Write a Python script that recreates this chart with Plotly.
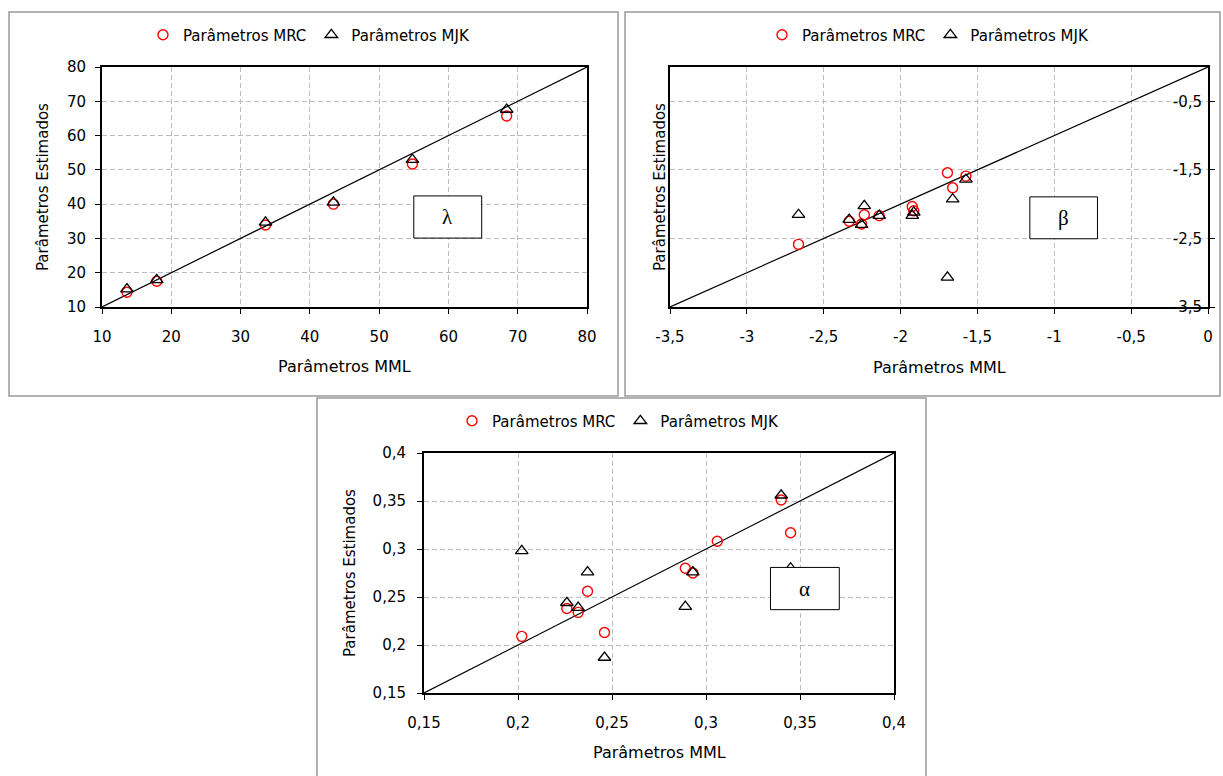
import plotly.graph_objects as go

W, H = 1223, 776

# ---------------- data ----------------
# lambda panel
mml_lambda = [13.6, 17.9, 33.6, 43.4, 54.8, 68.4]
mrc_lambda = [14.3, 17.5, 33.9, 40.0, 51.7, 65.7]
mjk_lambda = [15.2, 17.9, 34.7, 40.5, 53.0, 67.6]

# beta panel
mml_beta = [-2.664, -2.334, -2.254, -2.236, -2.139, -1.924, -1.914, -1.695, -1.661, -1.575]
mrc_beta = [-2.587, -2.250, -2.290, -2.154, -2.168, -2.034, -2.096, -1.543, -1.760, -1.591]
mjk_beta = [-2.154, -2.226, -2.298, -2.024, -2.168, -2.168, -2.120, -3.067, -1.928, -1.640]

# alpha panel
mml_alpha = [0.202, 0.226, 0.232, 0.237, 0.246, 0.289, 0.293, 0.306, 0.340, 0.345]
mrc_alpha = [0.209, 0.238, 0.234, 0.256, 0.213, 0.280, 0.275, 0.308, 0.351, 0.317]
mjk_alpha = [0.298, 0.244, 0.239, 0.276, 0.187, 0.240, 0.276, None, 0.356, 0.280]

lambda_range = [10, 80]
beta_range = [-3.5, 0]
alpha_range = [0.15, 0.4]

beta_x_tickvals = [-3.5, -3, -2.5, -2, -1.5, -1, -0.5, 0]
beta_x_ticktext = ['-3,5', '-3', '-2,5', '-2', '-1,5', '-1', '-0,5', '0']
beta_y_tickvals = [-3.5, -2.5, -1.5, -0.5]
beta_y_ticktext = ['-3,5', '-2,5', '-1,5', '-0,5']

series_names = ['Parâmetros MRC', 'Parâmetros MJK']
x_title = 'Parâmetros MML'
y_title = 'Parâmetros Estimados'
greek = ['λ', 'β', 'α']


def fx(p):
    return p / W


def fy(p):
    return 1 - p / H


FONT = 'DejaVu Sans'
fig = go.Figure()

panels = [
    dict(x=mml_lambda, mrc=mrc_lambda, mjk=mjk_lambda, rng=lambda_range, xa='x', ya='y', lg='legend'),
    dict(x=mml_beta, mrc=mrc_beta, mjk=mjk_beta, rng=beta_range, xa='x2', ya='y2', lg='legend2'),
    dict(x=mml_alpha, mrc=mrc_alpha, mjk=mjk_alpha, rng=alpha_range, xa='x3', ya='y3', lg='legend3'),
]

for p in panels:
    fig.add_trace(go.Scatter(x=p['rng'], y=p['rng'], mode='lines',
                             line=dict(color='black', width=1.2),
                             xaxis=p['xa'], yaxis=p['ya'], showlegend=False,
                             hoverinfo='skip'))
    fig.add_trace(go.Scatter(x=p['x'], y=p['mrc'], mode='markers', name=series_names[0],
                             marker=dict(symbol='circle-open', size=10, color='red',
                                         line=dict(width=1.4)),
                             xaxis=p['xa'], yaxis=p['ya'], legend=p['lg']))
    fig.add_trace(go.Scatter(x=p['x'], y=p['mjk'], mode='markers', name=series_names[1],
                             marker=dict(symbol='triangle-up-open', size=11, color='black',
                                         line=dict(width=1.3)),
                             xaxis=p['xa'], yaxis=p['ya'], legend=p['lg']))

axis_common = dict(showline=True, linecolor='black', linewidth=2, mirror=True,
                   ticks='outside', ticklen=5, tickwidth=1, tickcolor='black',
                   showgrid=True, gridcolor='#bdbdbd', gridwidth=1, griddash='5px,3px',
                   zeroline=False, automargin=False,
                   tickfont=dict(family=FONT, size=15, color='black'))

dom_top_y = [fy(307), fy(67)]

fig.update_layout(
    width=W, height=H,
    margin=dict(l=0, r=0, t=0, b=0, pad=0, autoexpand=False),
    paper_bgcolor='white', plot_bgcolor='white',
    separators=',.',
    xaxis=dict(axis_common, domain=[fx(102), fx(587)], range=lambda_range, tick0=10, dtick=10,
               anchor='y', ticklabelstandoff=10),
    yaxis=dict(axis_common, domain=dom_top_y, range=lambda_range, tick0=10, dtick=10,
               anchor='x', ticklabelstandoff=6),
    xaxis2=dict(axis_common, domain=[fx(670), fx(1208)], range=beta_range,
                tickmode='array', tickvals=beta_x_tickvals, ticktext=beta_x_ticktext,
                anchor='y2', ticklabelstandoff=10),
    yaxis2=dict(axis_common, domain=dom_top_y, range=beta_range, side='right',
                tickmode='array', tickvals=beta_y_tickvals, ticktext=beta_y_ticktext,
                ticklabelposition='inside', ticklabeloverflow='allow',
                anchor='x2', ticklabelstandoff=6),
    xaxis3=dict(axis_common, domain=[fx(424), fx(894)], range=alpha_range, tick0=0.15, dtick=0.05,
                anchor='y3', ticklabelstandoff=10),
    yaxis3=dict(axis_common, domain=[fy(693), fy(453)], range=alpha_range, tick0=0.15, dtick=0.05,
                anchor='x3', ticklabelstandoff=8),
    showlegend=True,
)

legend_common = dict(orientation='h', xanchor='center', yanchor='middle',
                     font=dict(family=FONT, size=15, color='black'),
                     bgcolor='rgba(0,0,0,0)', borderwidth=0, itemwidth=30)
fig.update_layout(
    legend=dict(legend_common, x=fx(309), y=fy(35)),
    legend2=dict(legend_common, x=fx(928), y=fy(35)),
    legend3=dict(legend_common, x=fx(618), y=fy(421)),
)

shapes = []
# outer chart frames
for (x0, y0, x1, y1) in [(9, 12, 618, 396), (625, 12, 1220, 396), (317, 398, 926, 790)]:
    shapes.append(dict(type='rect', xref='paper', yref='paper', x0=fx(x0), x1=fx(x1),
                       y0=fy(y1), y1=fy(y0), line=dict(color='#9a9a9a', width=1.5),
                       fillcolor='rgba(0,0,0,0)', layer='below'))
# greek label boxes (data coords)
boxes = [('x', 'y', 55.0, 64.8, 30.1, 42.4),
         ('x2', 'y2', -1.159, -0.719, -2.505, -1.894),
         ('x3', 'y3', 0.3343, 0.3709, 0.2368, 0.2808)]
annotations = []
for i, (xr, yr, x0, x1, y0, y1) in enumerate(boxes):
    shapes.append(dict(type='rect', xref=xr, yref=yr, x0=x0, x1=x1, y0=y0, y1=y1,
                       line=dict(color='black', width=1), fillcolor='white', layer='above'))
    annotations.append(dict(xref=xr, yref=yr, x=(x0 + x1) / 2, y=(y0 + y1) / 2, text=greek[i],
                            showarrow=False, font=dict(family='Liberation Serif', size=21, color='black')))

for (cx, cy) in [(344.5, 366), (939, 367), (659, 752)]:
    annotations.append(dict(xref='paper', yref='paper', x=fx(cx), y=fy(cy), text=x_title,
                            showarrow=False, xanchor='center', yanchor='middle',
                            font=dict(family=FONT, size=16, color='black')))
for (cx, cy) in [(43, 187), (660, 187), (350, 573)]:
    annotations.append(dict(xref='paper', yref='paper', x=fx(cx), y=fy(cy), text=y_title,
                            showarrow=False, xanchor='center', yanchor='middle', textangle=-90,
                            font=dict(family=FONT, size=15, color='black')))

fig.update_layout(shapes=shapes, annotations=annotations)

fig.write_html('out.html', config={'displayModeBar': False},
               post_script="document.body.style.margin='0';document.body.style.overflow='hidden';")
